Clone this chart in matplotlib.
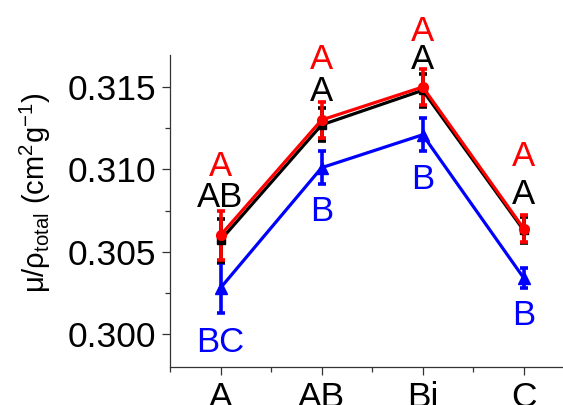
import matplotlib
matplotlib.use("Agg")
import matplotlib.pyplot as plt
from matplotlib.ticker import MultipleLocator, FormatStrFormatter

plt.rcParams['font.family'] = ['Liberation Sans', 'DejaVu Sans']
plt.rcParams['mathtext.fontset'] = 'custom'
plt.rcParams['mathtext.rm'] = 'Liberation Sans'
plt.rcParams['mathtext.it'] = 'Liberation Sans'

### values
groups = ["A", "AB", "Bi", "C"]

black_val = [0.3057, 0.3127, 0.3148, 0.3063]
black_err = [0.0013, 0.0010, 0.0010, 0.0008]
red_val = [0.3060, 0.3130, 0.3150, 0.3064]
red_err = [0.0015, 0.0011, 0.0011, 0.0008]
blue_val = [0.3028, 0.3101, 0.3121, 0.3034]
blue_err = [0.0015, 0.0010, 0.0010, 0.0006]

# significance letters per group
red_letters = ["A", "A", "A", "A"]
black_letters = ["AB", "A", "A", "A"]
blue_letters = ["BC", "B", "B", "B"]

# where the letters sit (data units)
red_letter_y = [0.3102, 0.3167, 0.3184, 0.31075]
black_letter_y = [0.30832, 0.3147, 0.3167, 0.3085]
blue_letter_y = [0.29951, 0.30741, 0.30941, 0.30115]

x = list(range(len(groups)))

fig = plt.figure(figsize=(5.63, 4.05), dpi=100)
ax = fig.add_axes([0.302, 0.094, 0.718, 0.770])

series = [
    (blue_val, blue_err, "#0000ff", "^", 8),
    (black_val, black_err, "#000000", "s", 6),
    (red_val, red_err, "#ff0000", "o", 7),
]
for vals, errs, col, mk, ms in series:
    ax.errorbar(x, vals, yerr=errs, color=col, marker=mk, markersize=ms,
                linewidth=2.3, elinewidth=2.6, capsize=3, capthick=2.6)

for i in x:
    ax.text(i, red_letter_y[i], red_letters[i], color="#ff0000", fontsize=25,
            ha="center", va="center", clip_on=False)
    ax.text(i, black_letter_y[i], black_letters[i], color="#000000", fontsize=25,
            ha="center", va="center", clip_on=False)
    ax.text(i, blue_letter_y[i], blue_letters[i], color="#0000ff", fontsize=25,
            ha="center", va="center", clip_on=False)

ax.set_xlim(-0.5, 3.5)
ax.set_ylim(0.2980, 0.31694)
ax.set_xticks(x)
ax.set_xticklabels(groups)
ax.xaxis.set_minor_locator(MultipleLocator(0.5))
ax.yaxis.set_major_locator(MultipleLocator(0.005))
ax.yaxis.set_minor_locator(MultipleLocator(0.0025))
ax.yaxis.set_major_formatter(FormatStrFormatter("%.3f"))

ax.spines["top"].set_visible(False)
ax.spines["right"].set_visible(False)
for s in ["left", "bottom"]:
    ax.spines[s].set_linewidth(0.9)
    ax.spines[s].set_color("#333333")
ax.tick_params(axis="both", which="major", direction="out", length=6, width=0.9,
               labelsize=25.5, colors="#333333", labelcolor="black")
ax.tick_params(axis="both", which="minor", direction="out", length=3.5, width=0.9,
               colors="#333333")
ax.tick_params(axis="y", which="major", pad=4)
ax.tick_params(axis="x", which="major", pad=4)

fig.text(35 / 563, 1 - 193 / 405,
         "μ/ρ$_{\\mathrm{total}}$ (cm$^{2}$g$^{-1}$)",
         rotation=90, ha="center", va="center", fontsize=21)

fig.savefig("out.png", dpi=100)
